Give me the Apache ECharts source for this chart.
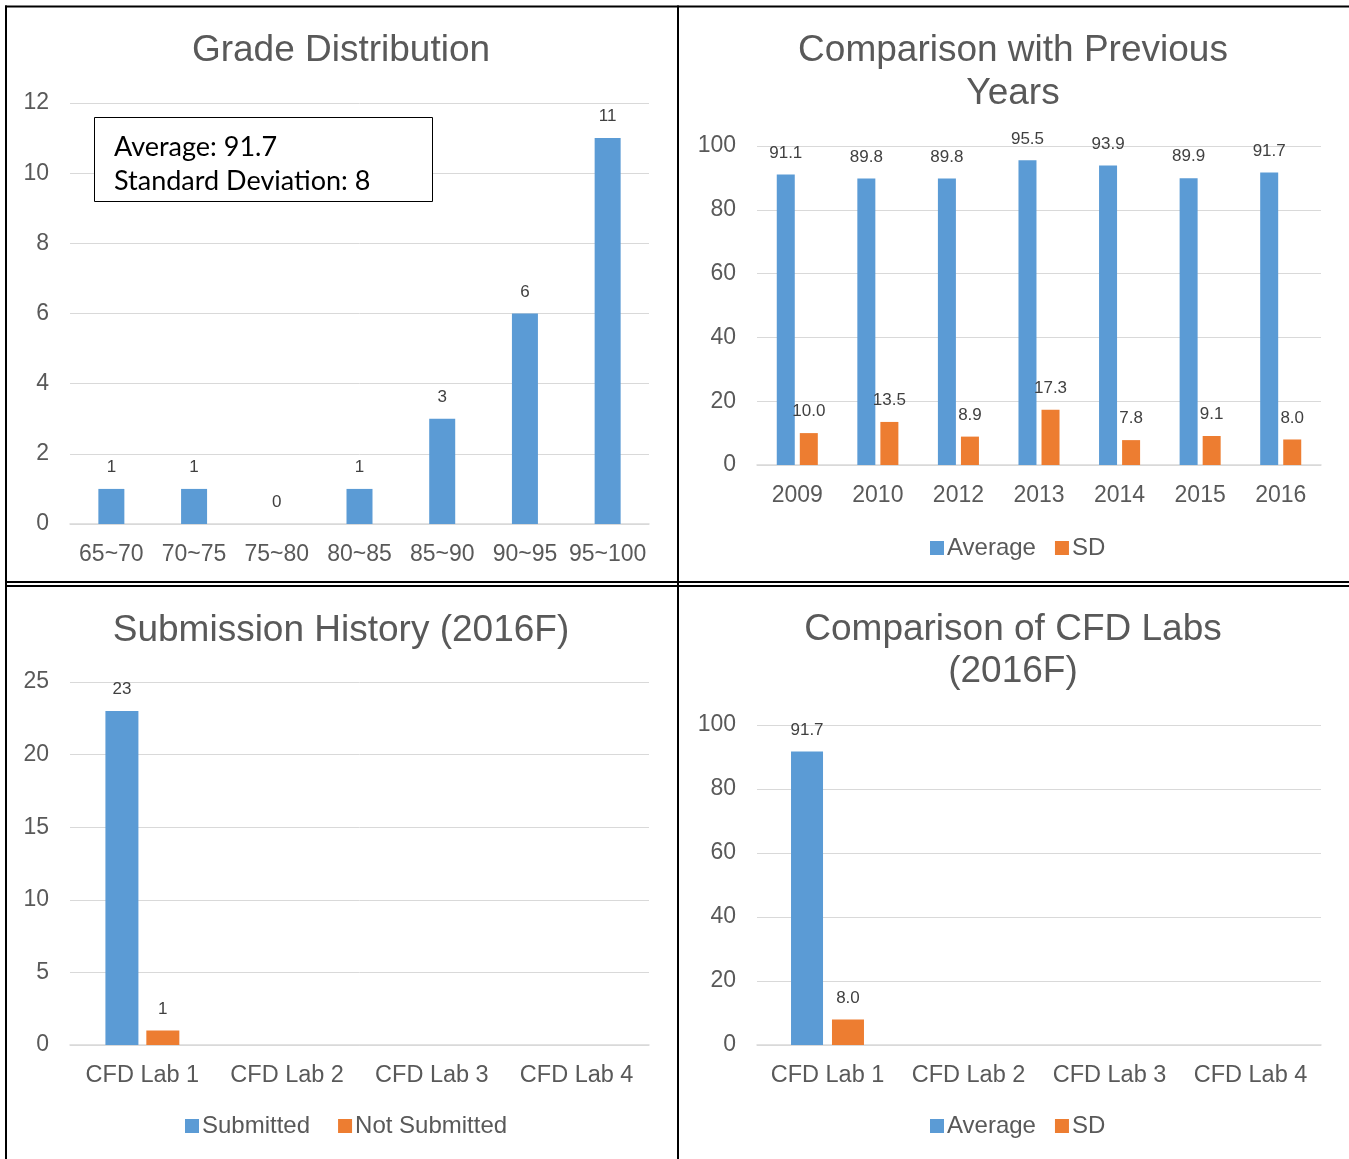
<!DOCTYPE html>
<html>
<head>
<meta charset="utf-8">
<script src="https://cdn.jsdelivr.net/npm/echarts@6/dist/echarts.min.js"></script>
<style>
html,body{margin:0;padding:0;background:#fff;}
#c{width:1349px;height:1159px;}
</style>
</head>
<body>
<div id="c"></div>
<script>
// ---- Data ----
const gradeCategories = ['65~70','70~75','75~80','80~85','85~90','90~95','95~100'];
const gradeCounts = [1, 1, 0, 1, 3, 6, 11];

const yearCategories = ['2009','2010','2012','2013','2014','2015','2016'];
const yearAverage = [91.1, 89.8, 89.8, 95.5, 93.9, 89.9, 91.7];
const yearSD = [10.0, 13.5, 8.9, 17.3, 7.8, 9.1, 8.0];

const labCategories = ['CFD Lab 1','CFD Lab 2','CFD Lab 3','CFD Lab 4'];
const labSubmitted = [23, null, null, null];
const labNotSubmitted = [1, null, null, null];
const labAverage = [91.7, null, null, null];
const labSD = [8.0, null, null, null];

const summaryLines = ['Average: 91.7', 'Standard Deviation: 8'];

// ---- Style ----
const FONT = '"Liberation Sans", Arial, sans-serif';
const BLUE = '#5b9bd5', ORANGE = '#ed7d31';
const GRAY = '#595959', GRID = '#d9d9d9';

const chart = echarts.init(document.getElementById('c'));

function xAxis(gi, data, fs) {
  return {
    type: 'category', gridIndex: gi, data: data,
    axisLine: {show: true, lineStyle: {color: GRID, width: 1.5}},
    axisTick: {show: false},
    axisLabel: {color: GRAY, fontSize: fs || 23, fontFamily: FONT, margin: 19, interval: 0}
  };
}
function yAxis(gi, max, interval) {
  return {
    type: 'value', gridIndex: gi, min: 0, max: max, interval: interval,
    axisLine: {show: false}, axisTick: {show: false},
    axisLabel: {color: GRAY, fontSize: 23, fontFamily: FONT, margin: 21, padding: [4, 0, 0, 0]},
    splitLine: {lineStyle: {color: GRID, width: 1}}
  };
}
function lbl(fmt) {
  return {show: true, position: 'top', distance: 13, color: '#404040', fontSize: 17, fontFamily: FONT,
          formatter: fmt || '{c}'};
}
const fix1 = p => (p.value == null ? '' : Number(p.value).toFixed(1));
function title(text, x, top, lh) {
  return {text: text, left: x, top: top, textAlign: 'center', padding: 0,
          textStyle: {color: GRAY, fontSize: 37, fontWeight: 'normal', fontFamily: FONT, lineHeight: lh}};
}
function legend(names, left, top, gap) {
  return {data: names, left: left, top: top, icon: 'rect', itemWidth: 14, itemHeight: 14, itemGap: gap,
          padding: 0, selectedMode: false, formatter: n => n.trim(),
          textStyle: {color: GRAY, fontSize: 24, fontFamily: FONT, padding: [0, 0, 0, -2]}};
}

const option = {
  animation: false,
  backgroundColor: '#fff',
  title: [
    title('Grade Distribution', 341, 29, 43),
    title('Comparison with Previous\nYears', 1013, 29, 43),
    title('Submission History (2016F)', 341, 609, 43),
    title('Comparison of CFD Labs\n(2016F)', 1013, 609, 42)
  ],
  legend: [
    legend(['Average','SD'], 930, 536, 19),
    legend(['Submitted','Not Submitted'], 185, 1114, 28),
    legend(['Average ','SD '], 930, 1114, 19)
  ],
  grid: [
    {left: 70, top: 103, width: 579, height: 421},
    {left: 757, top: 146, width: 564, height: 319},
    {left: 70, top: 682, width: 579, height: 363},
    {left: 757, top: 725, width: 564, height: 320}
  ],
  xAxis: [xAxis(0, gradeCategories), xAxis(1, yearCategories), xAxis(2, labCategories, 23.5), xAxis(3, labCategories, 23.5)],
  yAxis: [yAxis(0, 12, 2), yAxis(1, 100, 20), yAxis(2, 25, 5), yAxis(3, 100, 20)],
  series: [
    {name: 'Count', type: 'bar', xAxisIndex: 0, yAxisIndex: 0, data: gradeCounts, barWidth: 26,
     itemStyle: {color: BLUE}, label: lbl()},
    {name: 'Average', type: 'bar', xAxisIndex: 1, yAxisIndex: 1, data: yearAverage, barWidth: 18, barGap: '28%',
     itemStyle: {color: BLUE}, label: lbl(fix1)},
    {name: 'SD', type: 'bar', xAxisIndex: 1, yAxisIndex: 1, data: yearSD, barWidth: 18, barGap: '28%',
     itemStyle: {color: ORANGE}, label: lbl(fix1)},
    {name: 'Submitted', type: 'bar', xAxisIndex: 2, yAxisIndex: 2, data: labSubmitted, barWidth: 33, barGap: '24%',
     itemStyle: {color: BLUE}, label: lbl()},
    {name: 'Not Submitted', type: 'bar', xAxisIndex: 2, yAxisIndex: 2, data: labNotSubmitted, barWidth: 33, barGap: '24%',
     itemStyle: {color: ORANGE}, label: lbl()},
    {name: 'Average ', type: 'bar', xAxisIndex: 3, yAxisIndex: 3, data: labAverage, barWidth: 32, barGap: '28%',
     itemStyle: {color: BLUE}, label: lbl(fix1)},
    {name: 'SD ', type: 'bar', xAxisIndex: 3, yAxisIndex: 3, data: labSD, barWidth: 32, barGap: '28%',
     itemStyle: {color: ORANGE}, label: lbl(fix1)}
  ],
  graphic: [
    // panel borders
    {type: 'line', shape: {x1: 5, y1: 6.5, x2: 1349, y2: 6.5}, style: {stroke: '#000', lineWidth: 2}},
    {type: 'line', shape: {x1: 6, y1: 5.5, x2: 6, y2: 1159}, style: {stroke: '#000', lineWidth: 2}},
    {type: 'line', shape: {x1: 678, y1: 5.5, x2: 678, y2: 1159}, style: {stroke: '#000', lineWidth: 2}},
    {type: 'line', shape: {x1: 5, y1: 582, x2: 1349, y2: 582}, style: {stroke: '#000', lineWidth: 2}},
    {type: 'line', shape: {x1: 5, y1: 586, x2: 1349, y2: 586}, style: {stroke: '#000', lineWidth: 2}},
    // summary text box
    {type: 'rect', shape: {x: 94.5, y: 117.5, width: 338, height: 84},
     style: {fill: '#fff', stroke: '#000', lineWidth: 1}, z: 10},
    {type: 'text', x: 114, y: 147, z: 11,
     style: {text: summaryLines[0], fill: '#000', fontSize: 27, fontFamily: 'Lato, "Open Sans", sans-serif', verticalAlign: 'middle'}},
    {type: 'text', x: 114, y: 181, z: 11,
     style: {text: summaryLines[1], fill: '#000', fontSize: 27, fontFamily: 'Lato, "Open Sans", sans-serif', verticalAlign: 'middle'}}
  ]
};
chart.setOption(option);
</script>
</body>
</html>
